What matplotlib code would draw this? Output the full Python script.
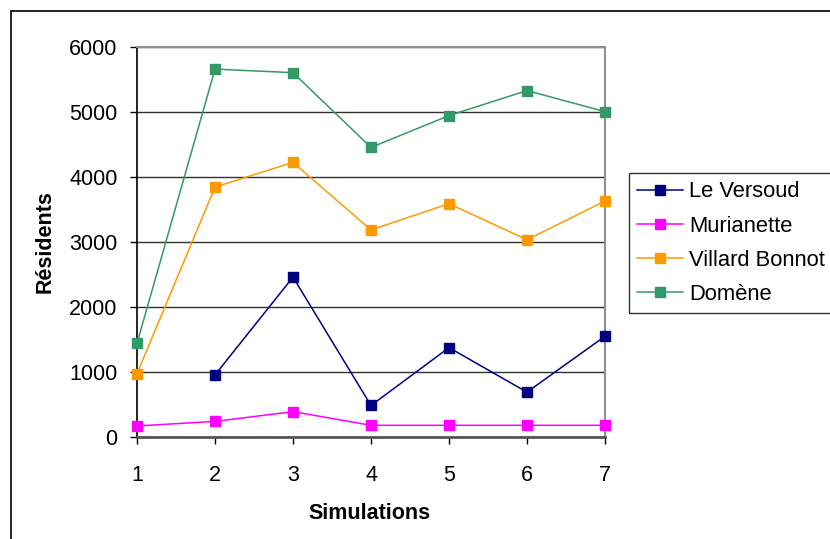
import matplotlib.pyplot as plt
import numpy as np
from matplotlib.patches import Rectangle

plt.rcParams['font.family'] = ['Liberation Sans', 'DejaVu Sans']

# données
simulations = [1, 2, 3, 4, 5, 6, 7]
le_versoud = [np.nan, 955, 2460, 485, 1375, 690, 1550]
murianette = [170, 240, 390, 180, 180, 180, 180]
villard_bonnot = [975, 3845, 4225, 3185, 3590, 3035, 3630]
domene = [1440, 5660, 5605, 4455, 4945, 5330, 5005]
yticks = [0, 1000, 2000, 3000, 4000, 5000, 6000]

series = [
    ('Le Versoud', le_versoud, '#000080'),
    ('Murianette', murianette, '#FF00FF'),
    ('Villard Bonnot', villard_bonnot, '#FF9900'),
    ('Domène', domene, '#339966'),
]

fig = plt.figure(figsize=(8.3, 5.39), dpi=100)
ax = fig.add_axes([137 / 830, 1 - 437 / 539, 468 / 830, 390 / 539])

for name, vals, col in series:
    ax.plot(simulations, vals, color=col, lw=1.1, marker='s', ms=7.5,
            mfc=col, mec=col, label=name, clip_on=False, zorder=3)

ax.set_xlim(1, 7)
ax.set_ylim(0, 6000)
ax.set_xticks(simulations)
ax.set_yticks(yticks)
ax.yaxis.grid(True, color='#303030', lw=1)
ax.set_axisbelow(True)

for s in ['top', 'right']:
    ax.spines[s].set_color('#909090')
    ax.spines[s].set_linewidth(1.5)
ax.spines['left'].set_color('black')
ax.spines['left'].set_linewidth(1.2)
ax.spines['bottom'].set_color('#555555')
ax.spines['bottom'].set_linewidth(2)

ax.tick_params(axis='both', direction='out', length=5, width=1, labelsize=15.5, color='black')
ax.tick_params(axis='y', pad=9)
ax.tick_params(axis='x', pad=15)

ax.set_xlabel('Simulations', fontsize=15.5, fontweight='bold')
ax.set_ylabel('Résidents', fontsize=15.5, fontweight='bold')
ax.xaxis.set_label_coords(0.496, -0.197)
ax.xaxis.label.set_va('center')
ax.yaxis.set_label_coords(-0.197, 0.5)
ax.yaxis.label.set_va('center')

leg = fig.legend(loc='upper left', bbox_to_anchor=(629 / 830, 1 - 173 / 539),
                 fontsize=15.8, frameon=True, fancybox=False, handlelength=2.1,
                 handletextpad=0.25, labelspacing=0.6, borderpad=0.38,
                 borderaxespad=0, markerscale=1.0)
leg.get_frame().set_edgecolor('black')
leg.get_frame().set_linewidth(1)

# cadre du graphique
fig.patches.append(Rectangle((11 / 830, -0.5), 2, 1.5 - 11 / 539,
                             transform=fig.transFigure, fill=False,
                             edgecolor='black', lw=1.2))

plt.savefig('out.png', dpi=100)
